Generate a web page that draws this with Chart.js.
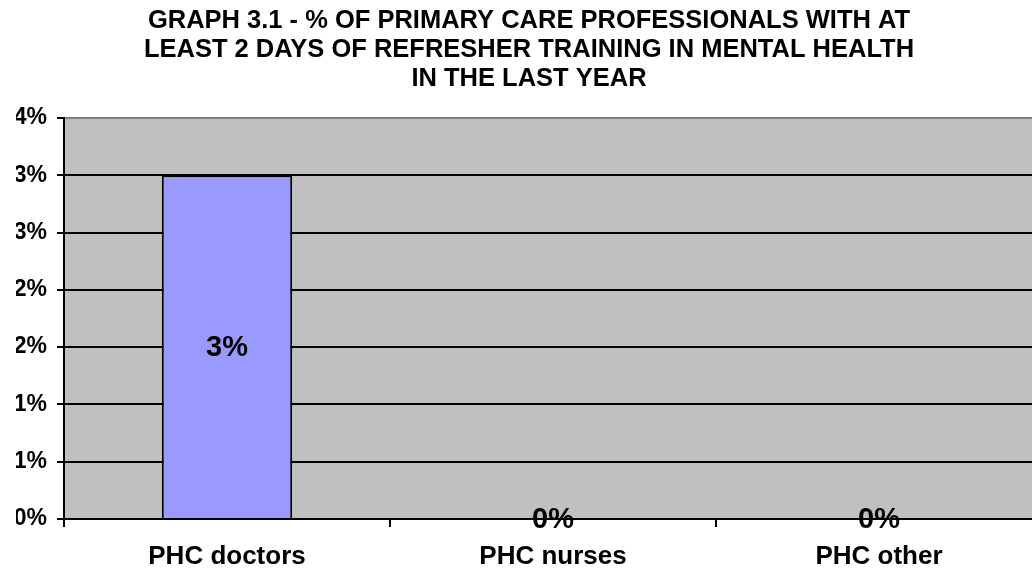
<!DOCTYPE html>
<html lang="en">
<head>
    <meta charset="UTF-8">
    <title>Graph 3.1 - Refresher training</title>
    <script src="https://cdn.jsdelivr.net/npm/chart.js"></script>
    <style>
        body { margin: 0; overflow: hidden; background: #fff; }
        /* plot area runs a little past the right edge, like the original */
        .chart-box { width: 1042px; height: 571px; }
    </style>
</head>
<body>
    <div class="chart-box">
        <canvas id="trainingChart"></canvas>
    </div>

    <script>
        // data (values in percent)
        const categories = ['PHC doctors', 'PHC nurses', 'PHC other'];
        const trainedPct = [3, 0, 0];
        const yMax = 3.5;
        const yStep = 0.5;
        const titleLines = [
            'GRAPH 3.1 - % OF PRIMARY CARE PROFESSIONALS WITH AT',
            'LEAST 2 DAYS OF REFRESHER TRAINING IN MENTAL HEALTH',
            'IN THE LAST YEAR'
        ];

        const fontFamily = '"Liberation Sans", Arial, Helvetica, sans-serif';
        const pctLabel = v => Math.round(v) + '%';

        // gray plot background
        const plotBackground = {
            id: 'plotBackground',
            beforeDraw(chart) {
                const { ctx, chartArea: a } = chart;
                ctx.save();
                ctx.fillStyle = '#C0C0C0';
                ctx.fillRect(a.left, a.top, a.right - a.left, a.bottom - a.top);
                ctx.restore();
            }
        };

        // value labels in the middle of each bar
        const barLabels = {
            id: 'barLabels',
            afterDatasetsDraw(chart) {
                const ctx = chart.ctx;
                const meta = chart.getDatasetMeta(0);
                ctx.save();
                ctx.font = 'bold 29px ' + fontFamily;
                ctx.fillStyle = '#000';
                ctx.textAlign = 'center';
                ctx.textBaseline = 'middle';
                meta.data.forEach((bar, i) => {
                    const p = bar.getProps(['x', 'y', 'base'], true);
                    ctx.fillText(pctLabel(trainedPct[i]), p.x, (p.y + p.base) / 2 + 1);
                });
                ctx.restore();
            }
        };

        const ctx = document.getElementById('trainingChart').getContext('2d');
        const trainingChart = new Chart(ctx, {
            type: 'bar',
            data: {
                labels: categories,
                datasets: [{
                    data: trainedPct,
                    backgroundColor: '#9999FF',
                    borderColor: '#000',
                    borderWidth: 2,
                    barPercentage: 0.4,
                    categoryPercentage: 1
                }]
            },
            options: {
                responsive: true,
                maintainAspectRatio: false,
                animation: false,
                layout: { padding: { left: 16 } },
                plugins: {
                    legend: { display: false },
                    tooltip: { enabled: false },
                    title: {
                        display: true,
                        text: titleLines,
                        color: '#000',
                        font: { family: fontFamily, size: 25.5, weight: 'bold', lineHeight: '29px' },
                        padding: { top: 6.5, bottom: 24.5 }
                    }
                },
                scales: {
                    x: {
                        afterFit(scale) { scale.height = 52; },
                        grid: {
                            offset: true,
                            drawOnChartArea: false,
                            tickLength: 8,
                            tickColor: '#000',
                            lineWidth: 2
                        },
                        border: { color: '#000', width: 2 },
                        ticks: {
                            color: '#000',
                            padding: 14,
                            maxRotation: 0,
                            font: { family: fontFamily, size: 26, weight: 'bold' }
                        }
                    },
                    y: {
                        min: 0,
                        max: yMax,
                        afterFit(scale) { scale.width = 48; },
                        grid: {
                            color: c => (c.tick && c.tick.value === yMax ? '#808080' : '#000'),
                            lineWidth: 2,
                            tickLength: 7,
                            tickColor: '#000'
                        },
                        border: { color: '#000', width: 2 },
                        ticks: {
                            stepSize: yStep,
                            color: '#000',
                            padding: 10,
                            font: { family: fontFamily, size: 23, weight: 'bold' },
                            callback: v => pctLabel(v)
                        }
                    }
                }
            },
            plugins: [plotBackground, barLabels]
        });
    </script>
</body>
</html>
